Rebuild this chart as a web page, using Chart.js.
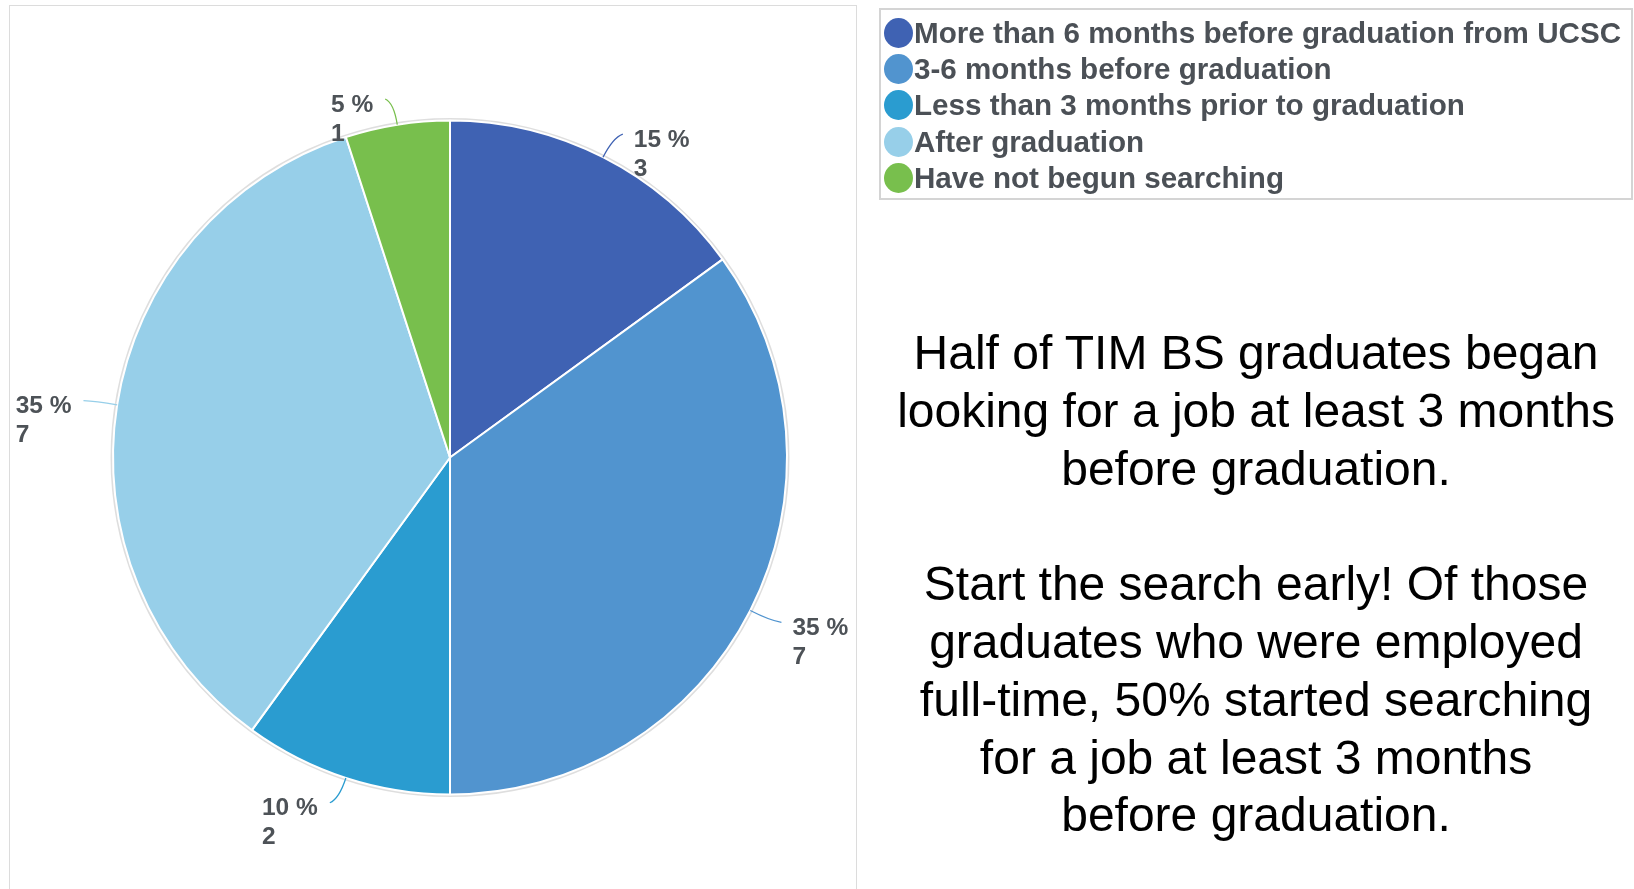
<!DOCTYPE html>
<html>
<head>
<meta charset="utf-8">
<script src="https://cdn.jsdelivr.net/npm/chart.js@4"></script>
<style>
  body { margin: 0; background: #fff; font-family: "Liberation Sans", Arial, sans-serif; }
  #wrap { position: relative; width: 1634px; height: 889px; overflow: hidden; }
  #frame { position: absolute; left: 9px; top: 5px; width: 846px; height: 900px; border: 1px solid #dcdcdc; }
  #pieChart { position: absolute; left: 0; top: 0; }
  #legend { position: absolute; left: 879px; top: 8px; width: 754px; height: 192px; border: 2px solid #d4d4d4; box-sizing: border-box; }
  .item { position: absolute; left: 0; height: 36px; display: flex; align-items: center; }
  .dot { width: 29px; height: 30px; border-radius: 50%; margin-left: 3px; margin-right: 1px; }
  .txt { font-weight: bold; font-size: 29.6px; color: #4b5056; white-space: nowrap; }
  #note { position: absolute; left: 876px; top: 324px; width: 760px; text-align: center; font-size: 48px; line-height: 57.8px; color: #000; }
</style>
</head>
<body>
<div id="wrap">
  <div id="frame"></div>
  <canvas id="pieChart" width="880" height="889"></canvas>
  <div id="legend"></div>
  <div id="note">Half of TIM BS graduates began<br>looking for a job at least 3 months<br>before graduation.<br><br>Start the search early! Of those<br>graduates who were employed<br>full-time, 50% started searching<br>for a job at least 3 months<br>before graduation.</div>
</div>
<script>
const categories = [
  "More than 6 months before graduation from UCSC",
  "3-6 months before graduation",
  "Less than 3 months prior to graduation",
  "After graduation",
  "Have not begun searching",
];
const counts = [3, 7, 2, 7, 1];
const sliceColors = ["#3f62b3", "#5194cf", "#2a9cd0", "#97cfe9", "#78bf4d"];

// legend built from the same arrays
const legendBox = document.getElementById("legend");
categories.forEach(function (name, i) {
  const row = document.createElement("div");
  row.className = "item";
  row.style.top = 5 + i * 36.2 + "px";
  row.innerHTML = '<span class="dot" style="background:' + sliceColors[i] + '"></span><span class="txt">' + name + "</span>";
  legendBox.appendChild(row);
});

// outside labels with curved leader lines
const outsideLabels = {
  id: "outsideLabels",
  beforeDatasetsDraw(chart) {
    const arc = chart.getDatasetMeta(0).data[0];
    if (!arc) return;
    const ctx = chart.ctx;
    ctx.save();
    ctx.beginPath();
    ctx.arc(arc.x, arc.y, arc.outerRadius + 1, 0, Math.PI * 2);
    ctx.strokeStyle = "rgba(0,0,0,0.13)";
    ctx.lineWidth = 3;
    ctx.stroke();
    ctx.restore();
  },
  afterDatasetsDraw(chart) {
    const ctx = chart.ctx;
    const total = counts.reduce((a, b) => a + b, 0);
    chart.getDatasetMeta(0).data.forEach(function (arc, i) {
      const p = arc.getProps(["x", "y", "startAngle", "endAngle", "outerRadius"], true);
      const mid = (p.startAngle + p.endAngle) / 2;
      const cx = Math.cos(mid), cy = Math.sin(mid);
      const side = cx >= 0 ? 1 : -1;
      const sx = p.x + cx * p.outerRadius, sy = p.y + cy * p.outerRadius;
      const qx = sx + cx * 22, qy = sy + cy * 22;
      const ex = sx + cx * 26 + side * 8, ey = sy + cy * 26;
      ctx.save();
      ctx.strokeStyle = sliceColors[i];
      ctx.lineWidth = 1.3;
      ctx.beginPath();
      ctx.moveTo(sx, sy);
      ctx.quadraticCurveTo(qx, qy, ex, ey);
      ctx.stroke();

      const line1 = Math.round((counts[i] / total) * 100) + " %";
      const line2 = String(counts[i]);
      ctx.font = "bold 24.5px 'Liberation Sans', Arial";
      ctx.fillStyle = "#4d5257";
      ctx.textBaseline = "middle";
      ctx.textAlign = "left";
      const w = Math.max(ctx.measureText(line1).width, ctx.measureText(line2).width);
      const tx = side > 0 ? ex + 11 : ex - 12 - w;
      ctx.fillText(line1, tx, ey + 6);
      ctx.fillText(line2, tx, ey + 35);
      ctx.restore();
    });
  },
};

const pieCtx = document.getElementById("pieChart").getContext("2d");
new Chart(pieCtx, {
  type: "pie",
  data: {
    labels: categories,
    datasets: [
      {
        data: counts,
        backgroundColor: sliceColors,
        borderColor: "#ffffff",
        borderWidth: 2,
      },
    ],
  },
  options: {
    responsive: false,
    animation: false,
    layout: { padding: { left: 112, right: 92, top: 119, bottom: 93 } },
    plugins: {
      legend: { display: false },
      tooltip: { enabled: false },
    },
  },
  plugins: [outsideLabels],
});
</script>
</body>
</html>
